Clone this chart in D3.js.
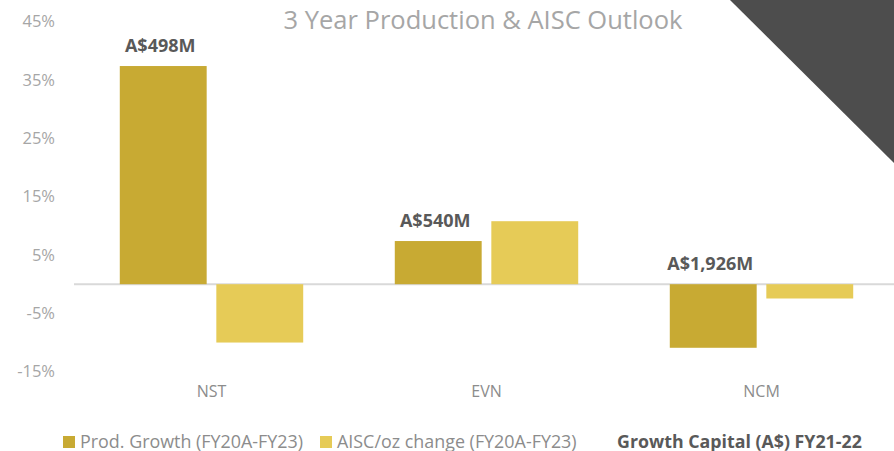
<!DOCTYPE html>
<html>
<head>
<meta charset="utf-8">
<script src="https://cdn.jsdelivr.net/npm/d3@7"></script>
<style>
  body { margin: 0; background: #fff; }
  svg, svg text { font-family: "Open Sans", "Noto Sans", sans-serif; }
  svg { display: block; }
</style>
</head>
<body>
<script>
// chart data
var miners = ["NST", "EVN", "NCM"];
var prodGrowth = [37.4, 7.4, -10.9];
var aiscChange = [-10.0, 10.8, -2.45];
var growthCapital = ["A$498M", "A$540M", "A$1,926M"];
var yTicks = [-15, -5, 5, 15, 25, 35, 45];
var seriesNames = ["Prod. Growth (FY20A-FY23)", "AISC/oz change (FY20A-FY23)"];
var colours = ["#c8aa33", "#e6cb57"];

var w = 894;
var h = 451;

var svg = d3.select("body")
            .append("svg")
            .attr("width", w)
            .attr("height", h);

// dark corner triangle
svg.append("path")
   .attr("d", "M730,0 L" + w + ",0 L" + w + ",163 Z")
   .attr("fill", "#4d4d4d");

// scales
var xScale = d3.scaleBand()
               .domain(miners)
               .range([74, 899])
               .paddingInner(0.333)
               .paddingOuter(0.1665);

var xSub = d3.scaleBand()
             .domain([0, 1])
             .range([0, xScale.bandwidth()])
             .paddingInner(0.1);

var yScale = d3.scaleLinear()
               .domain([-15, 45])
               .range([371.7, 21.7]);

// y axis labels
var yAxis = svg.append("g")
               .attr("transform", "translate(55,0)")
               .call(d3.axisLeft(yScale).tickValues(yTicks)
                       .tickSize(0).tickPadding(0)
                       .tickFormat(function(d) { return d + "%"; }));
yAxis.select(".domain").remove();
yAxis.selectAll("text")
     .attr("fill", "#a6a6a6")
     .style("font-size", "16.5px");

// zero line
svg.append("line")
   .attr("x1", 74)
   .attr("x2", w)
   .attr("y1", yScale(0))
   .attr("y2", yScale(0))
   .attr("stroke", "#d9d9d9")
   .attr("stroke-width", 2);

// bars
var series = [prodGrowth, aiscChange];
series.forEach(function(values, s) {
  svg.append("g")
     .selectAll("rect")
     .data(values)
     .enter()
     .append("rect")
     .attr("x", function(d, i) { return xScale(miners[i]) + xSub(s); })
     .attr("width", xSub.bandwidth())
     .attr("y", function(d) { return yScale(Math.max(d, 0)); })
     .attr("height", function(d) { return Math.abs(yScale(d) - yScale(0)); })
     .attr("fill", colours[s]);
});

// growth capital labels above production bars
svg.append("g")
   .selectAll("text")
   .data(growthCapital)
   .enter()
   .append("text")
   .attr("x", function(d, i) { return xScale(miners[i]) + xSub(0) + xSub.bandwidth() / 2 - 3; })
   .attr("y", function(d, i) { return yScale(Math.max(prodGrowth[i], 0)) - 14; })
   .attr("text-anchor", "middle")
   .attr("fill", "#595959")
   .style("font-size", "18px")
   .style("font-weight", "bold")
   .text(function(d) { return d; });

// x axis labels
var xAxis = svg.append("g")
               .attr("transform", "translate(0,380)")
               .call(d3.axisBottom(xScale).tickSize(0).tickPadding(6));
xAxis.select(".domain").remove();
xAxis.selectAll("text")
     .attr("fill", "#8c8c8c")
     .style("font-size", "16px");

// title
svg.append("text")
   .attr("x", 483)
   .attr("y", 29)
   .attr("text-anchor", "middle")
   .attr("fill", "#a6a6a6")
   .style("font-size", "25.5px")
   .text("3 Year Production & AISC Outlook");

// legend
var legendX = [63, 320];
seriesNames.forEach(function(name, s) {
  svg.append("rect")
     .attr("x", legendX[s])
     .attr("y", 436)
     .attr("width", 12)
     .attr("height", 12)
     .attr("fill", colours[s]);
  svg.append("text")
     .attr("x", legendX[s] + 17)
     .attr("y", 447.5)
     .attr("fill", "#8c8c8c")
     .style("font-size", "17.9px")
     .text(name);
});

svg.append("text")
   .attr("x", 617)
   .attr("y", 447.5)
   .attr("fill", "#595959")
   .style("font-size", "17.8px")
   .style("font-weight", "bold")
   .text("Growth Capital (A$) FY21-22");
</script>
</body>
</html>
